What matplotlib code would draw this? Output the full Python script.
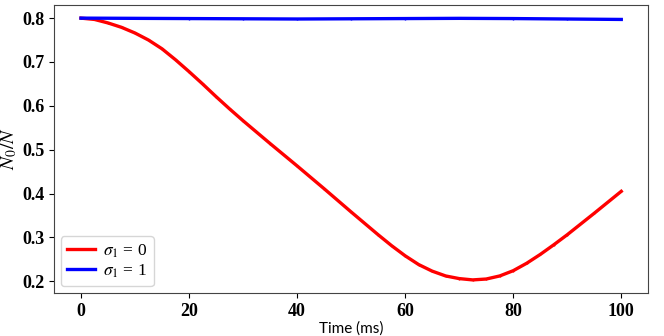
import numpy as np
import matplotlib
matplotlib.use("Agg")
import matplotlib.pyplot as plt

plt.rcParams['mathtext.fontset'] = 'stix'

# time (ms) and N0/N values
t = [0, 2.5, 5, 7.5, 10, 12.5, 15, 17.5, 20, 22.5, 25, 27.5, 30, 35, 40, 45, 50, 55,
     57.5, 60, 62.5, 65, 67.5, 70, 72.5, 75, 77.5, 80, 82.5, 85, 87.5, 90, 95, 100]
sigma0 = [0.800, 0.797, 0.789, 0.779, 0.766, 0.750, 0.730, 0.705, 0.678, 0.650,
          0.621, 0.593, 0.566, 0.514, 0.463, 0.411, 0.358, 0.306, 0.281, 0.258,
          0.238, 0.223, 0.212, 0.206, 0.203, 0.205, 0.212, 0.224, 0.241, 0.261,
          0.283, 0.306, 0.355, 0.405]
t_b = [0, 10, 20, 30, 40, 50, 60, 70, 80, 90, 100]
sigma1 = [0.800, 0.7995, 0.799, 0.7985, 0.798, 0.7985, 0.799, 0.7995, 0.799, 0.798, 0.797]

fig = plt.figure(figsize=(6.64, 3.36), dpi=100)
ax = fig.add_axes([0.0813, 0.128, 0.895, 0.857])

ax.plot(t, sigma0, color='red', lw=2.4, marker='.', markersize=1, label=r'$\sigma_1$ = 0')
ax.plot(t_b, sigma1, color='blue', lw=2.4, marker='.', markersize=1, label=r'$\sigma_1$ = 1')

ax.set_xticks([0, 20, 40, 60, 80, 100])
ax.set_yticks([0.2, 0.3, 0.4, 0.5, 0.6, 0.7, 0.8])
for lab in ax.get_xticklabels() + ax.get_yticklabels():
    lab.set_fontfamily('Liberation Serif')
    lab.set_fontweight('bold')
    lab.set_fontsize(13)

ax.set_xlabel('Time (ms)', fontsize=11, family='Lato', labelpad=1)
ax.set_ylabel(r'$N_0/N$', fontsize=14, labelpad=2)

for s in ax.spines.values():
    s.set_color('#444444')

ax.legend(loc='lower left', prop={'family': 'Liberation Serif', 'size': 12.5},
          handlelength=1.6, handletextpad=0.5, borderaxespad=0.4, labelspacing=0.15,
          borderpad=0.35)

fig.savefig('out.png', dpi=100)
